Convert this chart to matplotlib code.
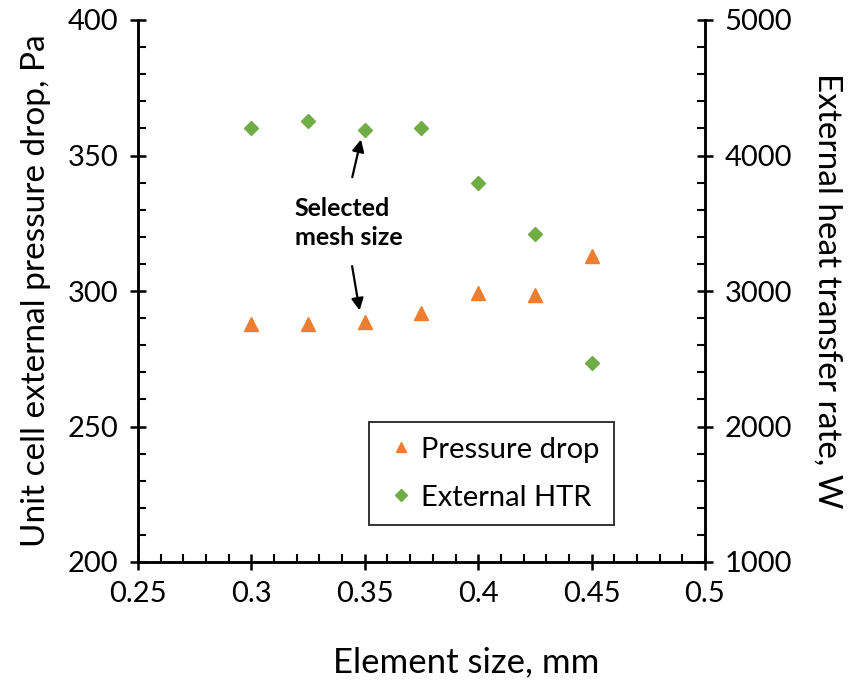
import matplotlib
matplotlib.use("Agg")
import matplotlib.pyplot as plt
from matplotlib.ticker import MultipleLocator

element_size = [0.3, 0.325, 0.35, 0.375, 0.4, 0.425, 0.45]
pressure_drop = [287.8, 288.0, 288.5, 292.0, 299.3, 298.5, 313.0]
external_htr = [4200, 4255, 4190, 4200, 3795, 3420, 2470]

plt.rcParams['font.family'] = ['Lato', 'DejaVu Sans']

fig = plt.figure(figsize=(8.49, 6.81), dpi=100)
ax = fig.add_axes([138/849, 1-562/681, (705-138)/849, (562-20)/681])
ax2 = ax.twinx()

orange = '#ED7D31'
green = '#70AD47'

l1, = ax.plot(element_size, pressure_drop, linestyle='none', marker='^', color=orange,
              markersize=10, label='Pressure drop')
l2, = ax2.plot(element_size, external_htr, linestyle='none', marker='D', color=green,
               markersize=7.5, label='External HTR')

ax.set_xlim(0.25, 0.5)
ax.set_ylim(200, 400)
ax2.set_ylim(1000, 5000)

ax.xaxis.set_major_locator(MultipleLocator(0.05))
ax.xaxis.set_minor_locator(MultipleLocator(0.01))
ax.yaxis.set_major_locator(MultipleLocator(50))
ax.yaxis.set_minor_locator(MultipleLocator(10))
ax2.yaxis.set_major_locator(MultipleLocator(1000))
ax2.yaxis.set_minor_locator(MultipleLocator(200))

ax.set_xticks([0.25, 0.3, 0.35, 0.4, 0.45, 0.5])
ax.set_xticklabels(['0.25', '0.3', '0.35', '0.4', '0.45', '0.5'])

for a in (ax, ax2):
    for s in a.spines.values():
        s.set_linewidth(1.8)
    a.spines['top'].set_visible(False)

ax.tick_params(axis='both', which='major', direction='inout', length=12, width=1.8,
               labelsize=21, pad=8)
ax.tick_params(axis='both', which='minor', direction='in', length=6, width=1.5)
ax2.tick_params(axis='y', which='major', direction='inout', length=12, width=1.8,
                labelsize=21, pad=8)
ax2.tick_params(axis='y', which='minor', direction='in', length=6, width=1.5)

ax.set_xlabel('Element size, mm', fontsize=25)
ax.xaxis.set_label_coords(0.578, -0.155)
ax.set_ylabel('Unit cell external pressure drop, Pa', fontsize=24, labelpad=12)
ax2.set_ylabel('External heat transfer rate, W', fontsize=24, rotation=270, labelpad=36)

leg = ax.legend(handles=[l1, l2], loc='lower right', bbox_to_anchor=(0.84, 0.068),
                fontsize=21, frameon=True, fancybox=False, edgecolor='black',
                handletextpad=0.1, handlelength=1.2, markerscale=0.75,
                borderpad=0.5, labelspacing=0.75, borderaxespad=0)
leg.get_frame().set_linewidth(1.4)

ax.text(0.3192, 325.0, 'Selected\nmesh size', ha='left', va='center', fontsize=18,
        fontweight='bold', linespacing=1.3, multialignment='left')
ax.annotate('', xy=(0.3486, 356.9), xytext=(0.3442, 341.0),
            arrowprops=dict(arrowstyle='-|>', color='black', lw=1.6, mutation_scale=18))
ax.annotate('', xy=(0.3479, 291.8), xytext=(0.3442, 310.2),
            arrowprops=dict(arrowstyle='-|>', color='black', lw=1.6, mutation_scale=18))

fig.savefig('out.png', dpi=100)
